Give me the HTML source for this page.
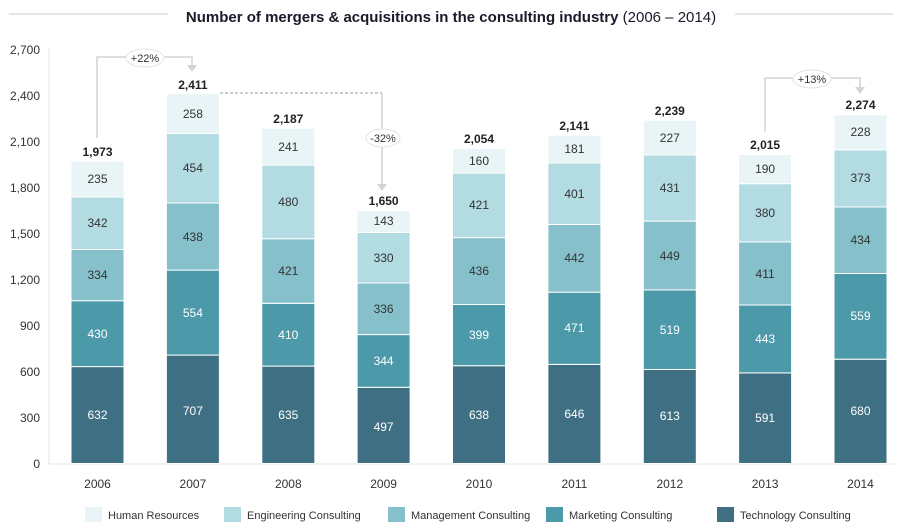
<!DOCTYPE html>
<html><head><meta charset="utf-8"><style>
body{margin:0;background:#fff}
svg{display:block;font-family:"Liberation Sans",sans-serif}
.v{font-size:12px;text-anchor:middle;fill:#333}
.w{font-size:12px;text-anchor:middle;fill:#fff}
.t{font-size:12px;text-anchor:middle;font-weight:bold;fill:#222}
.y{font-size:12px;text-anchor:end;fill:#333}
.x{font-size:12px;text-anchor:middle;fill:#333}
.l{font-size:11px;fill:#333}
.T{fill:#3f6f82}.M{fill:#4b99a9}.G{fill:#86c1cb}.E{fill:#b3dbe2}.H{fill:#e8f4f6}
rect.s{stroke:#fff;stroke-width:1}
</style></head><body>
<svg width="900" height="527" viewBox="0 0 900 527">
<line x1="9" y1="14" x2="168" y2="14" stroke="#ddd" stroke-width="1.5"/>
<line x1="735" y1="14" x2="893" y2="14" stroke="#ddd" stroke-width="1.5"/>
<text x="451" y="22" text-anchor="middle" font-size="15" fill="#1a1a2a"><tspan font-weight="bold">Number of mergers &amp; acquisitions in the consulting industry</tspan> (2006 – 2014)</text>
<line x1="49" y1="49" x2="49" y2="464" stroke="#e6e6e6"/>
<line x1="49" y1="464" x2="895" y2="464" stroke="#e6e6e6"/>
<g class="y">
<text x="40" y="468">0</text><text x="40" y="422">300</text><text x="40" y="376">600</text><text x="40" y="330">900</text><text x="40" y="284">1,200</text><text x="40" y="238">1,500</text><text x="40" y="192">1,800</text><text x="40" y="146">2,100</text><text x="40" y="100">2,400</text><text x="40" y="54">2,700</text>
</g>
<g id="bars">
<rect class="s T" x="71" y="366.6" width="53" height="96.9"/><rect class="s M" x="71" y="300.7" width="53" height="65.9"/><rect class="s G" x="71" y="249.5" width="53" height="51.2"/><rect class="s E" x="71" y="197" width="53" height="52.5"/><rect class="s H" x="71" y="161" width="53" height="36"/>
<text class="w" x="97.5" y="419">632</text><text class="w" x="97.5" y="338">430</text><text class="v" x="97.5" y="279">334</text><text class="v" x="97.5" y="227">342</text><text class="v" x="97.5" y="183">235</text><text class="t" x="97.5" y="156">1,973</text>
<rect class="s T" x="166.4" y="355.1" width="53" height="108.4"/><rect class="s M" x="166.4" y="270.1" width="53" height="85"/><rect class="s G" x="166.4" y="203" width="53" height="67.1"/><rect class="s E" x="166.4" y="133.4" width="53" height="69.6"/><rect class="s H" x="166.4" y="93.8" width="53" height="39.6"/>
<text class="w" x="192.9" y="415">707</text><text class="w" x="192.9" y="317">554</text><text class="v" x="192.9" y="241">438</text><text class="v" x="192.9" y="172">454</text><text class="v" x="192.9" y="118">258</text><text class="t" x="192.9" y="89">2,411</text>
<rect class="s T" x="261.8" y="366.1" width="53" height="97.4"/><rect class="s M" x="261.8" y="303.3" width="53" height="62.8"/><rect class="s G" x="261.8" y="238.7" width="53" height="64.6"/><rect class="s E" x="261.8" y="165.1" width="53" height="73.6"/><rect class="s H" x="261.8" y="128.2" width="53" height="36.9"/>
<text class="w" x="288.3" y="419">635</text><text class="w" x="288.3" y="339">410</text><text class="v" x="288.3" y="275">421</text><text class="v" x="288.3" y="206">480</text><text class="v" x="288.3" y="151">241</text><text class="t" x="288.3" y="123">2,187</text>
<rect class="s T" x="357.1" y="387.3" width="53" height="76.2"/><rect class="s M" x="357.1" y="334.6" width="53" height="52.7"/><rect class="s G" x="357.1" y="283" width="53" height="51.6"/><rect class="s E" x="357.1" y="232.4" width="53" height="50.6"/><rect class="s H" x="357.1" y="210.5" width="53" height="21.9"/>
<text class="w" x="383.6" y="431">497</text><text class="w" x="383.6" y="365">344</text><text class="v" x="383.6" y="313">336</text><text class="v" x="383.6" y="262">330</text><text class="v" x="383.6" y="225">143</text><text class="t" x="383.6" y="205">1,650</text>
<rect class="s T" x="452.5" y="365.7" width="53" height="97.8"/><rect class="s M" x="452.5" y="304.5" width="53" height="61.2"/><rect class="s G" x="452.5" y="237.6" width="53" height="66.9"/><rect class="s E" x="452.5" y="173.1" width="53" height="64.5"/><rect class="s H" x="452.5" y="148.6" width="53" height="24.5"/>
<text class="w" x="479" y="419">638</text><text class="w" x="479" y="339">399</text><text class="v" x="479" y="275">436</text><text class="v" x="479" y="209">421</text><text class="v" x="479" y="165">160</text><text class="t" x="479" y="143">2,054</text>
<rect class="s T" x="547.9" y="364.4" width="53" height="99.1"/><rect class="s M" x="547.9" y="292.2" width="53" height="72.2"/><rect class="s G" x="547.9" y="224.5" width="53" height="67.7"/><rect class="s E" x="547.9" y="163" width="53" height="61.5"/><rect class="s H" x="547.9" y="135.2" width="53" height="27.8"/>
<text class="w" x="574.4" y="418">646</text><text class="w" x="574.4" y="332">471</text><text class="v" x="574.4" y="262">442</text><text class="v" x="574.4" y="198">401</text><text class="v" x="574.4" y="153">181</text><text class="t" x="574.4" y="130">2,141</text>
<rect class="s T" x="643.3" y="369.5" width="53" height="94"/><rect class="s M" x="643.3" y="289.9" width="53" height="79.6"/><rect class="s G" x="643.3" y="221.1" width="53" height="68.8"/><rect class="s E" x="643.3" y="155" width="53" height="66.1"/><rect class="s H" x="643.3" y="120.2" width="53" height="34.8"/>
<text class="w" x="669.8" y="420">613</text><text class="w" x="669.8" y="334">519</text><text class="v" x="669.8" y="260">449</text><text class="v" x="669.8" y="192">431</text><text class="v" x="669.8" y="142">227</text><text class="t" x="669.8" y="115">2,239</text>
<rect class="s T" x="738.6" y="372.9" width="53" height="90.6"/><rect class="s M" x="738.6" y="305" width="53" height="67.9"/><rect class="s G" x="738.6" y="241.9" width="53" height="63.1"/><rect class="s E" x="738.6" y="183.7" width="53" height="58.2"/><rect class="s H" x="738.6" y="154.5" width="53" height="29.2"/>
<text class="w" x="765.1" y="422">591</text><text class="w" x="765.1" y="343">443</text><text class="v" x="765.1" y="278">411</text><text class="v" x="765.1" y="217">380</text><text class="v" x="765.1" y="173">190</text><text class="t" x="765.1" y="149">2,015</text>
<rect class="s T" x="834" y="359.2" width="53" height="104.3"/><rect class="s M" x="834" y="273.5" width="53" height="85.7"/><rect class="s G" x="834" y="207" width="53" height="66.5"/><rect class="s E" x="834" y="149.8" width="53" height="57.2"/><rect class="s H" x="834" y="114.8" width="53" height="35"/>
<text class="w" x="860.5" y="415">680</text><text class="w" x="860.5" y="320">559</text><text class="v" x="860.5" y="244">434</text><text class="v" x="860.5" y="182">373</text><text class="v" x="860.5" y="136">228</text><text class="t" x="860.5" y="109">2,274</text>
</g>
<g class="x">
<text x="97.5" y="488">2006</text><text x="192.9" y="488">2007</text><text x="288.3" y="488">2008</text><text x="383.6" y="488">2009</text><text x="479" y="488">2010</text><text x="574.4" y="488">2011</text><text x="669.8" y="488">2012</text><text x="765.1" y="488">2013</text><text x="860.5" y="488">2014</text>
</g>
<g stroke="#d4d4d4" stroke-width="1.5" fill="none">
<polyline points="97,138 97,57 192,57 192,66"/>
<line x1="220" y1="93" x2="382" y2="93" stroke="#999" stroke-dasharray="3,2" stroke-width="1"/>
<line x1="382" y1="93" x2="382" y2="185"/>
<polyline points="765,132 765,78 860,78 860,88"/>
</g>
<g fill="#d4d4d4">
<polygon points="187,65 197,65 192,72"/><polygon points="377,184 387,184 382,191"/><polygon points="855,87 865,87 860,94"/>
</g>
<g fill="#fff" stroke="#e4e4e4">
<ellipse cx="145" cy="58" rx="19" ry="9"/><ellipse cx="383" cy="138" rx="17" ry="9"/><ellipse cx="812" cy="79" rx="19" ry="9"/>
</g>
<g class="v">
<text x="145" y="62" style="font-size:11px">+22%</text><text x="383" y="142" style="font-size:11px">-32%</text><text x="812" y="83" style="font-size:11px">+13%</text>
</g>
<rect class="H" x="85" y="507" width="17" height="15"/><text class="l" x="108" y="519">Human Resources</text>
<rect class="E" x="224" y="507" width="17" height="15"/><text class="l" x="247" y="519">Engineering Consulting</text>
<rect class="G" x="388" y="507" width="17" height="15"/><text class="l" x="411" y="519">Management Consulting</text>
<rect class="M" x="546" y="507" width="17" height="15"/><text class="l" x="569" y="519">Marketing Consulting</text>
<rect class="T" x="717" y="507" width="17" height="15"/><text class="l" x="740" y="519">Technology Consulting</text>
</svg>
</body></html>
